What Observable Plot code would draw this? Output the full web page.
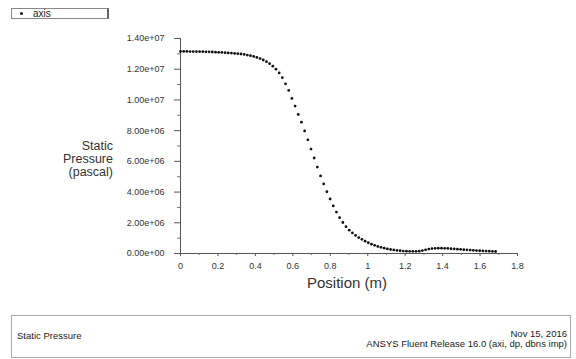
<!DOCTYPE html>
<html>
<head>
<meta charset="utf-8">
<script src="https://cdn.jsdelivr.net/npm/d3@7"></script>
<script src="https://cdn.jsdelivr.net/npm/@observablehq/plot@0.6"></script>
<style>
  html, body { margin: 0; padding: 0; background: #fff; }
  #wrap { position: relative; width: 576px; height: 359px; font-family: "Liberation Sans", Arial, sans-serif; color: #222; overflow: hidden; }
  #legend { position: absolute; left: 11px; top: 8px; width: 95px; height: 9px; border: 1px solid #888; border-right: 2px solid #666; font-size: 10px; line-height: 9px; }
  #legend .dot { position: absolute; left: 8px; top: 3px; width: 3px; height: 3px; border-radius: 50%; background: #111; }
  #legend .lab { position: absolute; left: 21px; top: 0; }
  #ylab { position: absolute; left: 13px; width: 100px; top: 140px; text-align: right; font-size: 12.5px; line-height: 13px; color: #333; }
  #xlab { position: absolute; left: 272px; width: 150px; top: 274px; text-align: center; font-size: 15px; color: #333; }
  #footer { position: absolute; left: 11px; top: 315px; width: 558px; height: 41px; border: 1px solid #aaa; font-size: 9.5px; color: #222; }
  #footer .l { position: absolute; left: 5px; top: 14px; }
  #footer .r { position: absolute; right: 3px; top: 13px; text-align: right; line-height: 10px; }
  svg { position: absolute; left: 0; top: 0; }
</style>
</head>
<body>
<div id="wrap">
  <div id="chart"></div>
  <div id="legend"><span class="dot"></span><span class="lab">axis</span></div>
  <div id="ylab">Static<br>Pressure<br>(pascal)</div>
  <div id="xlab">Position (m)</div>
  <div id="footer">
    <div class="l">Static Pressure</div>
    <div class="r">Nov 15, 2016<br>ANSYS Fluent Release 16.0 (axi, dp, dbns imp)</div>
  </div>
</div>
<script>
const positions = [
  0.000, 0.017, 0.034, 0.051, 0.068, 0.085, 0.102, 0.119, 0.136, 0.153,
  0.170, 0.187, 0.204, 0.221, 0.238, 0.255, 0.272, 0.289, 0.306, 0.323,
  0.340, 0.357, 0.374, 0.391, 0.408, 0.425, 0.442, 0.459, 0.476, 0.493,
  0.510, 0.527, 0.544, 0.561, 0.578, 0.595, 0.612, 0.629, 0.646, 0.663,
  0.680, 0.697, 0.714, 0.731, 0.748, 0.765, 0.782, 0.799, 0.816, 0.833,
  0.850, 0.867, 0.884, 0.901, 0.918, 0.935, 0.952, 0.969, 0.986, 1.003,
  1.020, 1.037, 1.054, 1.071, 1.088, 1.105, 1.122, 1.139, 1.156, 1.173,
  1.190, 1.207, 1.224, 1.241, 1.258, 1.275, 1.292, 1.309, 1.326, 1.343,
  1.360, 1.377, 1.394, 1.411, 1.428, 1.445, 1.462, 1.479, 1.496, 1.513,
  1.530, 1.547, 1.564, 1.581, 1.598, 1.615, 1.632, 1.649, 1.666, 1.683
];
// static pressure in units of 1e6 Pa
const pressureMPa = [
  13.16, 13.16, 13.16, 13.15, 13.15, 13.15, 13.14, 13.14, 13.13, 13.13,
  13.12, 13.11, 13.10, 13.09, 13.08, 13.06, 13.05, 13.03, 13.01, 12.99,
  12.96, 12.92, 12.88, 12.83, 12.77, 12.69, 12.60, 12.49, 12.36, 12.20,
  12.00, 11.76, 11.45, 11.05, 10.62, 10.10, 9.60, 9.05, 8.55, 7.98,
  7.40, 6.80, 6.22, 5.63, 5.05, 4.53, 4.02, 3.55, 3.10, 2.70,
  2.33, 2.02, 1.75, 1.52, 1.34, 1.18, 1.04, 0.92, 0.80, 0.70,
  0.61, 0.53, 0.46, 0.40, 0.35, 0.30, 0.26, 0.23, 0.20, 0.18,
  0.16, 0.15, 0.14, 0.14, 0.14, 0.15, 0.19, 0.24, 0.29, 0.32,
  0.34, 0.35, 0.35, 0.34, 0.33, 0.31, 0.30, 0.28, 0.27, 0.25,
  0.24, 0.22, 0.21, 0.19, 0.18, 0.17, 0.16, 0.15, 0.14, 0.13
];
const xTicks = [0, 0.2, 0.4, 0.6, 0.8, 1, 1.2, 1.4, 1.6, 1.8];
const xMinorTicks = [0.1, 0.3, 0.5, 0.7, 0.9, 1.1, 1.3, 1.5, 1.7];
const yTicks = [0, 2e6, 4e6, 6e6, 8e6, 1e7, 1.2e7, 1.4e7];
const yMinorTicks = [1e6, 3e6, 5e6, 7e6, 9e6, 1.1e7, 1.3e7];

const data = positions.map((x, i) => ({x, p: pressureMPa[i] * 1e6}));

const fmtY = v => {
  const [m, e] = v.toExponential(2).split("e");
  return m + "e" + e[0] + e.slice(1).padStart(2, "0");
};
const fmtX = v => String(+v.toFixed(1));

const chart = Plot.plot({
  width: 576,
  height: 359,
  marginLeft: 180,
  marginRight: 59,
  marginTop: 38,
  marginBottom: 106,
  style: {fontFamily: "Liberation Sans, Arial, sans-serif", fontSize: "9px", color: "#333", background: "transparent"},
  x: {domain: [0, 1.8]},
  y: {domain: [0, 1.4e7]},
  marks: [
    Plot.axisY(yTicks, {tickSize: 6, tickPadding: 10, tickFormat: fmtY, label: null, stroke: "#555"}),
    Plot.axisY(yMinorTicks, {tickSize: 3, text: null, label: null, stroke: "#777"}),
    Plot.axisX(xTicks, {tickSize: 3, tickPadding: 6, tickFormat: fmtX, label: null, stroke: "#555"}),
    Plot.axisX(xMinorTicks, {tickSize: 2, text: null, label: null, stroke: "#777"}),
    Plot.ruleX([0], {y1: 0, y2: 1.4e7, stroke: "#555"}),
    Plot.ruleY([0], {x1: 0, x2: 1.8, stroke: "#555"}),
    Plot.dot(data, {x: "x", y: "p", r: 1.4, fill: "#111", stroke: "none"})
  ]
});
document.getElementById("chart").appendChild(chart);
</script>
</body>
</html>
